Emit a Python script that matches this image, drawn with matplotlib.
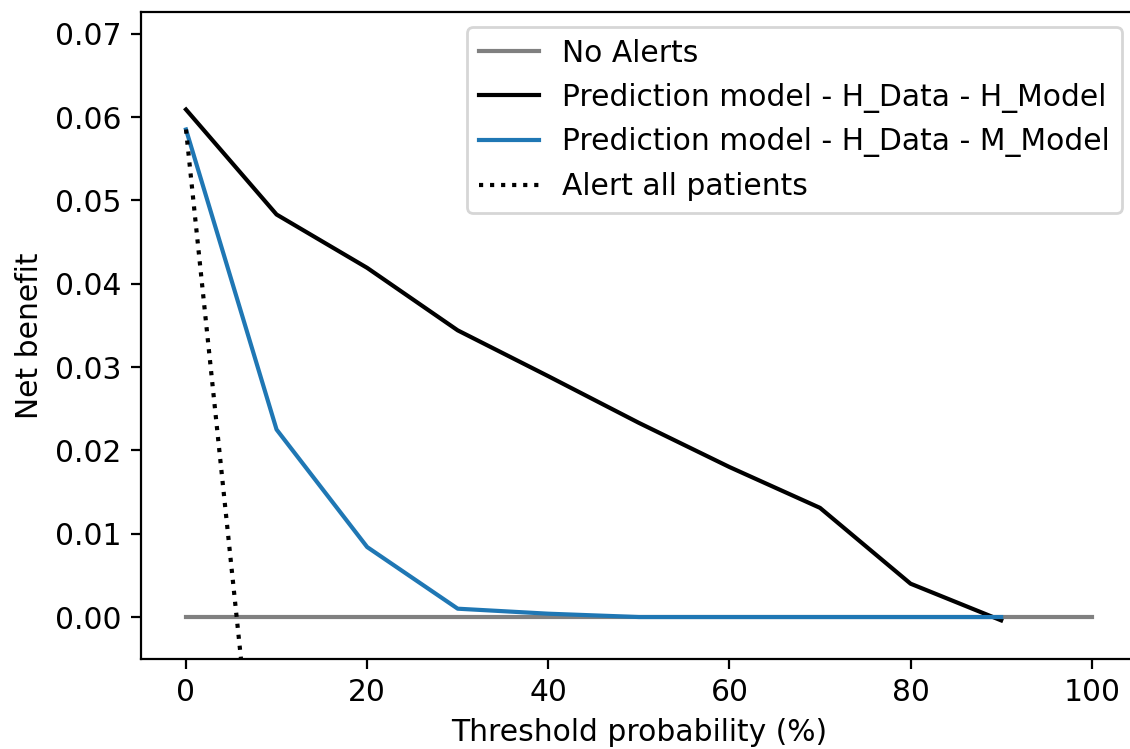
import matplotlib
matplotlib.use("Agg")
import matplotlib.pyplot as plt

plt.rcParams["font.size"] = 10.7

thresholds = [0, 10, 20, 30, 40, 50, 60, 70, 80, 90]
no_alert_x = [0, 100]
no_alert_y = [0.0, 0.0]
h_model = [0.0609, 0.0483, 0.0419, 0.0344, 0.0289, 0.0233, 0.0180, 0.0131, 0.0040, -0.0004]
m_model = [0.0585, 0.0225, 0.0084, 0.0010, 0.0004, 0.0, 0.0, 0.0, 0.0, 0.0]
alert_all = [0.0585, -0.0461, -0.1769, -0.3450, -0.5692, -0.8830, -1.3538, -2.1383, -3.7075, -8.4150]

labels = ["No Alerts", "Prediction model - H_Data - H_Model",
          "Prediction model - H_Data - M_Model", "Alert all patients"]

fig = plt.figure(figsize=(5.65, 3.745), dpi=200)
ax = fig.add_axes([140.7/1130, 90.3/749, 996.3/1130, 646.7/749])

ax.plot(no_alert_x, no_alert_y, color="gray", lw=1.5, label=labels[0])
ax.plot(thresholds, h_model, color="black", lw=1.5, label=labels[1])
ax.plot(thresholds, m_model, color="#1f77b4", lw=1.5, label=labels[2])
ax.plot(thresholds, alert_all, color="black", ls=":", lw=1.5, label=labels[3])

ax.set_xlim(-5, 105)
ax.set_ylim(-0.005, 0.0726)
ax.set_xlabel("Threshold probability (%)")
ax.set_ylabel("Net benefit")
ax.spines["right"].set_visible(False)
ax.legend(loc="upper right")

fig.savefig("out.png", dpi=200)
